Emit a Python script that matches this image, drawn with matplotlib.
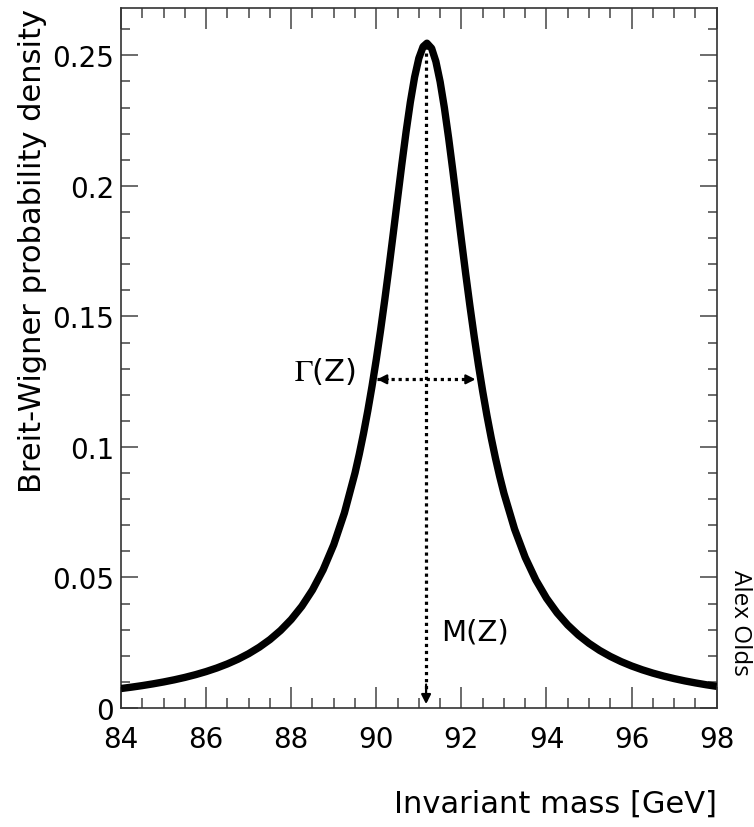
import matplotlib
matplotlib.use('agg')
import matplotlib.pyplot as plt
from matplotlib.ticker import MultipleLocator

plt.rcParams['font.family'] = ['DejaVu Sans']
plt.rcParams['mathtext.fontset'] = 'stix'

# Breit-Wigner curve (denser around the peak)
mass = [84.0, 84.25, 84.5, 84.75, 85.0, 85.25, 85.5, 85.75, 86.0, 86.25,
        86.5, 86.75, 87.0, 87.25, 87.5, 87.75, 88.0, 88.25, 88.5, 88.75,
        89.0, 89.25, 89.5, 89.6, 89.7, 89.8, 89.9, 90.0, 90.1, 90.2,
        90.3, 90.4, 90.5, 90.6, 90.7, 90.8, 90.9, 91.0, 91.1, 91.19,
        91.3, 91.4, 91.5, 91.6, 91.7, 91.8, 91.9, 92.0, 92.1, 92.2,
        92.3, 92.4, 92.5, 92.6, 92.7, 92.8, 92.9, 93.0, 93.25, 93.5,
        93.75, 94.0, 94.25, 94.5, 94.75, 95.0, 95.25, 95.5, 95.75, 96.0,
        96.25, 96.5, 96.75, 97.0, 97.25, 97.5, 97.75, 98.0]
density = [0.00747, 0.00800, 0.00859, 0.00925, 0.00998, 0.01080, 0.01172, 0.01277,
           0.01396, 0.01532, 0.01689, 0.01870, 0.02081, 0.02329, 0.02621, 0.02970,
           0.03390, 0.03899, 0.04522, 0.05294, 0.06257, 0.07471, 0.09004, 0.09727,
           0.10519, 0.11386, 0.12332, 0.13357, 0.14466, 0.15649, 0.16899, 0.18197,
           0.19518, 0.20825, 0.22073, 0.23206, 0.24164, 0.24890, 0.25334, 0.25465,
           0.25269, 0.24766, 0.23990, 0.22992, 0.21831, 0.20567, 0.19253, 0.17934,
           0.16644, 0.15407, 0.14238, 0.13147, 0.12136, 0.11206, 0.10355, 0.09577,
           0.08868, 0.08223, 0.06853, 0.05768, 0.04903, 0.04207, 0.03642, 0.03178,
           0.02795, 0.02475, 0.02205, 0.01976, 0.01780, 0.01611, 0.01465, 0.01337,
           0.01225, 0.01127, 0.01039, 0.00962, 0.00892, 0.00830]

m_z = 91.17
peak_top = 0.2534
gamma_left = 90.02
gamma_right = 92.33
half_max = 0.1259

ytick_vals = [0, 0.05, 0.1, 0.15, 0.2, 0.25]
ytick_labels = ['0', '0.05', '0.1', '0.15', '0.2', '0.25']
xtick_vals = [84, 86, 88, 90, 92, 94, 96, 98]

fig = plt.figure(figsize=(7.54, 8.28), dpi=100)
ax = fig.add_axes([0.1605, 0.1437, 0.79, 0.845])

ax.plot(mass, density, color='black', lw=5.3, solid_capstyle='butt',
        solid_joinstyle='round', zorder=3)

# dotted guides
ax.plot([m_z, m_z], [peak_top, 0.003], color='black', lw=2.3,
        dashes=(1, 1.2), zorder=2)
ax.plot([gamma_left, gamma_right], [half_max, half_max], color='black', lw=2.3,
        dashes=(1, 1.2), zorder=2)
head = dict(arrowstyle='-|>,head_length=0.55,head_width=0.28', color='black', lw=1.6,
            shrinkA=0, shrinkB=0)
ax.annotate('', xy=(gamma_left, half_max), xytext=(gamma_left + 0.25, half_max),
            arrowprops=head)
ax.annotate('', xy=(gamma_right, half_max), xytext=(gamma_right - 0.25, half_max),
            arrowprops=head)
ax.annotate('', xy=(m_z, 0.0015), xytext=(m_z, 0.009), arrowprops=head)

ax.text(89.52, 0.1292, r'$\Gamma$(Z)', fontsize=22, ha='right', va='center')
ax.text(91.52, 0.0295, 'M(Z)', fontsize=21, ha='left', va='center')

ax.set_xlim(84, 98)
ax.set_ylim(0, 0.268)
ax.set_xticks(xtick_vals)
ax.set_yticks(ytick_vals)
ax.set_yticklabels(ytick_labels)
ax.xaxis.set_minor_locator(MultipleLocator(0.5))
ax.yaxis.set_minor_locator(MultipleLocator(0.01))

for s in ax.spines.values():
    s.set_color('#333333')
    s.set_linewidth(1.2)
ax.tick_params(which='both', direction='in', top=True, right=True, color='#444444',
               width=1.1, labelsize=20)
ax.tick_params(axis='x', which='major', length=15, pad=12)
ax.tick_params(axis='x', which='minor', length=7.5)
ax.tick_params(axis='y', which='major', length=12.5, pad=5)
ax.tick_params(axis='y', which='minor', length=6.5)

ax.set_ylabel('Breit-Wigner probability density', fontsize=22, loc='top', labelpad=4)
ax.set_xlabel('Invariant mass [GeV]', fontsize=22, loc='right', labelpad=26)

fig.text(0.981, 0.248, 'Alex Olds', rotation=-90, fontsize=17.5, family='Open Sans',
         ha='center', va='center')

fig.savefig('out.png', dpi=100)
